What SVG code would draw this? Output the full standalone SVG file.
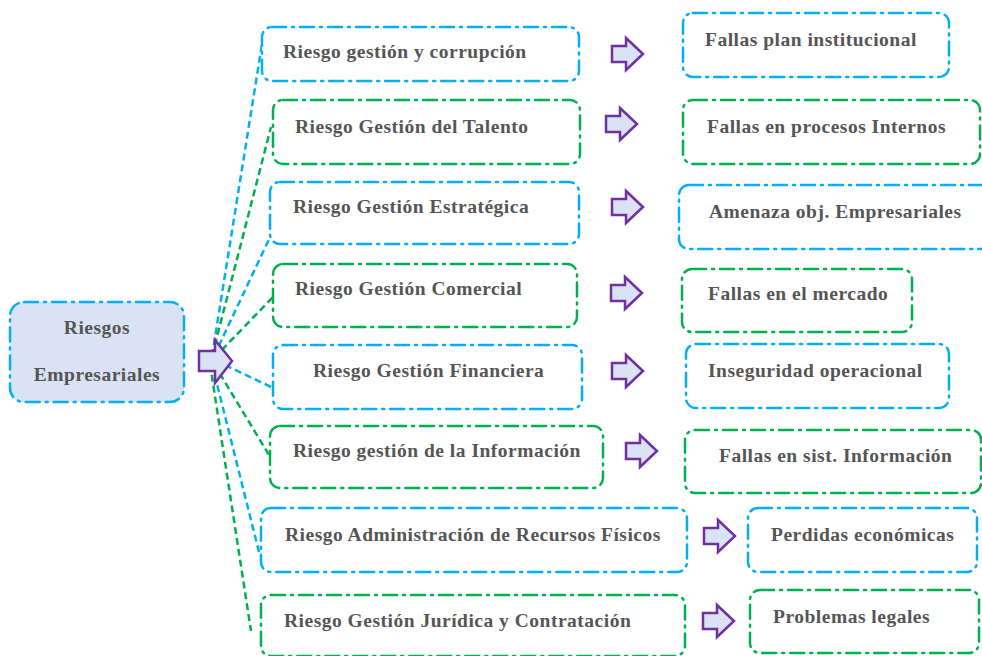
<svg xmlns="http://www.w3.org/2000/svg" width="982" height="656" viewBox="0 0 982 656">
<style>
.bx{fill:#ffffff;stroke-width:2.5;stroke-dasharray:14 6 2 6;stroke-linecap:round}
.b{stroke:#00b0f0}
.g{stroke:#00b050}
.t{font-family:"Liberation Serif","Times New Roman",serif;font-weight:bold;font-size:19.5px;letter-spacing:0.5px;fill:#555555}
.cb{stroke:#00b0f0;stroke-width:2.5;stroke-dasharray:7 4;fill:none}
.cg{stroke:#00b050;stroke-width:2.5;stroke-dasharray:7 4;fill:none}
.ar{fill:#dae3f3;stroke:#7030a0;stroke-width:2.5;stroke-linejoin:miter}
</style>
<defs>
<path id="arr" d="M0,-8 H14 V-16 L31,0 L14,16 V8 H0 Z"/>
</defs>
<rect width="982" height="656" fill="#ffffff"/>
<g id="connectors">
<line class="cb" x1="212" y1="356" x2="262" y2="44"/>
<line class="cg" x1="212" y1="356" x2="271" y2="127"/>
<line class="cb" x1="214" y1="356" x2="272" y2="233"/>
<line class="cg" x1="214" y1="358" x2="275" y2="295"/>
<line class="cb" x1="225" y1="365" x2="271" y2="387"/>
<line class="cg" x1="214" y1="364" x2="269" y2="455"/>
<line class="cb" x1="212" y1="364" x2="259" y2="552"/>
<line class="cg" x1="210" y1="364" x2="251" y2="631"/>
</g>
<g id="root">
<rect class="bx b" x="10" y="302" width="174" height="100" rx="14" style="fill:#dae3f3"/>
<text class="t" x="97" y="334" text-anchor="middle">Riesgos</text>
<text class="t" x="97" y="381" text-anchor="middle">Empresariales</text>
</g>
<g id="main-arrow">
<path class="ar" d="M199,351 H215 V340 L232,361 L215,383 V371 H199 Z"/>
</g>
<g id="n1"><rect class="bx b" x="262" y="27" width="317" height="54" rx="10"/><text class="t" x="283" y="58">Riesgo gestión y corrupción</text></g>
<g id="n2"><rect class="bx g" x="273" y="100" width="307" height="64" rx="10"/><text class="t" x="295" y="133">Riesgo Gestión del Talento</text></g>
<g id="n3"><rect class="bx b" x="270" y="182" width="309" height="62" rx="10"/><text class="t" x="293" y="213">Riesgo Gestión Estratégica</text></g>
<g id="n4"><rect class="bx g" x="273" y="264" width="304" height="63" rx="10"/><text class="t" x="295" y="295">Riesgo Gestión Comercial</text></g>
<g id="n5"><rect class="bx b" x="273" y="345" width="309" height="64" rx="10"/><text class="t" x="313" y="377">Riesgo Gestión Financiera</text></g>
<g id="n6"><rect class="bx g" x="270" y="426" width="333" height="62" rx="10"/><text class="t" x="293" y="457">Riesgo gestión de la Información</text></g>
<g id="n7"><rect class="bx b" x="261" y="508" width="426" height="64" rx="10"/><text class="t" x="285" y="541">Riesgo Administración de Recursos Físicos</text></g>
<g id="n8"><rect class="bx g" x="261" y="595" width="424" height="61" rx="10"/><text class="t" x="284" y="627">Riesgo Gestión Jurídica y Contratación</text></g>
<g id="r1"><rect class="bx b" x="683" y="13" width="266" height="64" rx="10"/><text class="t" x="705" y="46">Fallas plan institucional</text></g>
<g id="r2"><rect class="bx g" x="683" y="100" width="297" height="64" rx="10"/><text class="t" x="707" y="133">Fallas en procesos Internos</text></g>
<g id="r3"><rect class="bx b" x="679" y="185" width="330" height="64" rx="10"/><text class="t" x="709" y="218">Amenaza obj. Empresariales</text></g>
<g id="r4"><rect class="bx g" x="682" y="269" width="230" height="63" rx="10"/><text class="t" x="708" y="300">Fallas en el mercado</text></g>
<g id="r5"><rect class="bx b" x="686" y="344" width="263" height="64" rx="10"/><text class="t" x="708" y="377">Inseguridad operacional</text></g>
<g id="r6"><rect class="bx g" x="685" y="430" width="296" height="63" rx="10"/><text class="t" x="719" y="462">Fallas en sist. Información</text></g>
<g id="r7"><rect class="bx b" x="748" y="508" width="229" height="64" rx="10"/><text class="t" x="771" y="541">Perdidas económicas</text></g>
<g id="r8"><rect class="bx g" x="750" y="590" width="229" height="63" rx="10"/><text class="t" x="773" y="623">Problemas legales</text></g>
<g id="arrows">
<use href="#arr" class="ar" x="612" y="54"/>
<use href="#arr" class="ar" x="606" y="124"/>
<use href="#arr" class="ar" x="612" y="207"/>
<use href="#arr" class="ar" x="611" y="293"/>
<use href="#arr" class="ar" x="612" y="371"/>
<use href="#arr" class="ar" x="626" y="451"/>
<use href="#arr" class="ar" x="704" y="536"/>
<use href="#arr" class="ar" x="703" y="621"/>
</g>
</svg>
